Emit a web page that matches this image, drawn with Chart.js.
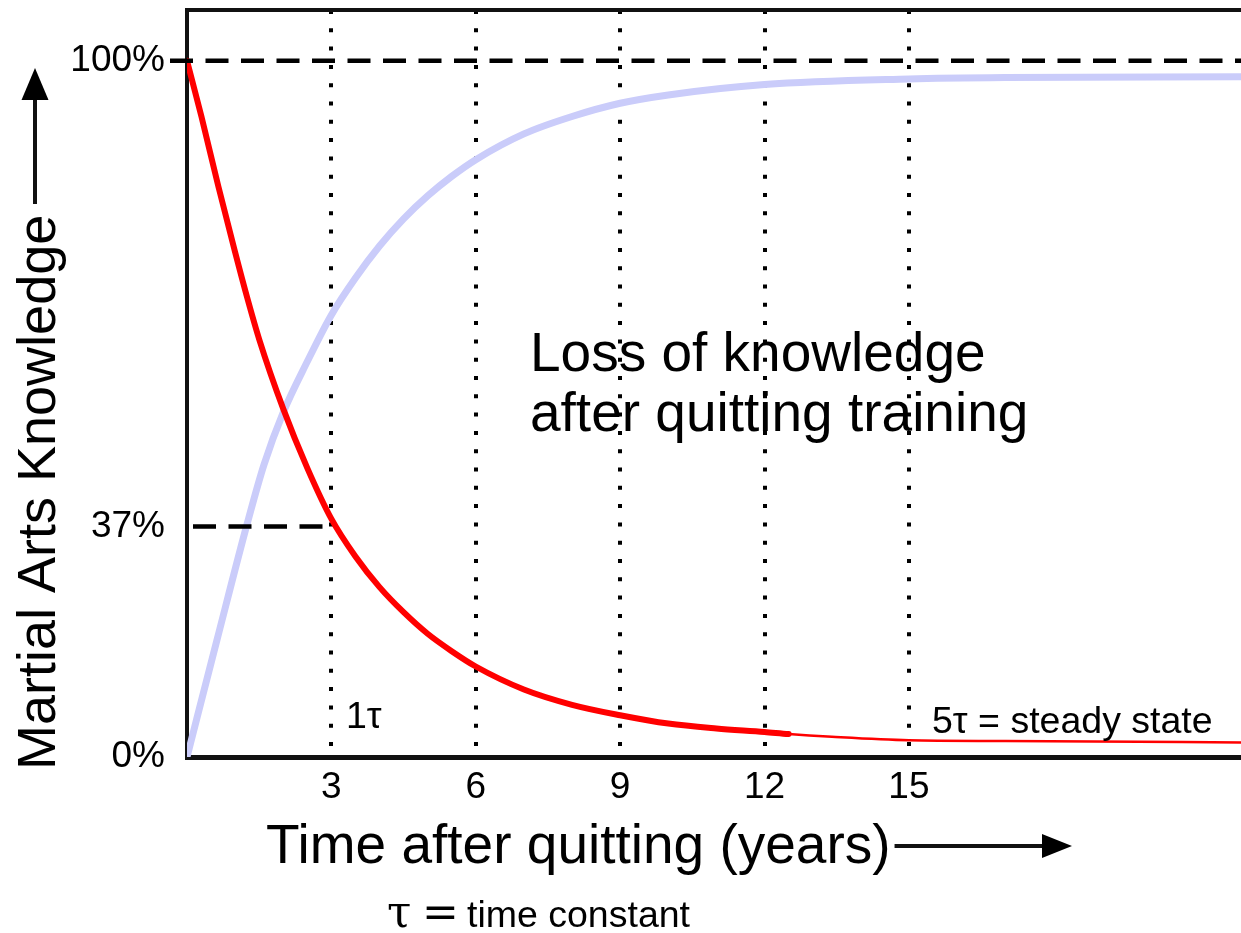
<!DOCTYPE html>
<html>
<head>
<meta charset="utf-8">
<script src="https://cdn.jsdelivr.net/npm/chart.js@4.4.1/dist/chart.umd.min.js"></script>
<style>
  html, body { margin: 0; padding: 0; background: #fff; overflow: hidden; }
  #chart { display: block; }
</style>
</head>
<body>
<canvas id="chart" width="1241" height="933"></canvas>
<script>
// --- DATA ---
const redYears   = [0, 0.3, 0.65, 1.0, 1.25, 1.5, 2.0, 2.5, 3.0, 3.5, 4.0, 4.5, 5.0, 5.5, 6.0, 7.0, 8.0, 9.0, 10.0, 11.0, 12.0, 12.5, 13.4, 15.0, 17.0, 21.9];
const redValues  = [100, 92, 82, 72.5, 66, 60, 50, 41.5, 34.2, 28.8, 24.4, 20.8, 17.7, 15.2, 13, 9.7, 7.5, 6.0, 4.8, 4.1, 3.6, 3.3, 2.9, 2.4, 2.3, 2.1];

const blueYears  = [0, 0.63, 1.25, 1.6, 2.0, 2.5, 3.0, 3.5, 4.0, 4.5, 5.0, 5.5, 6.0, 7.0, 8.0, 9.0, 10.0, 12.0, 15.0, 17.0, 21.9];
const blueValues = [0, 17, 33.5, 42, 49.5, 56.8, 63.5, 68.8, 73.4, 77.3, 80.6, 83.4, 85.8, 89.5, 92, 93.9, 95.1, 96.6, 97.4, 97.6, 97.7];

const xTicks      = [3, 6, 9, 12, 15];
const yTickValues = [0, 33.1, 100];
const yTickLabels = ["0%", "37%", "100%"];

const X_MAX = 21.9;
const Y_MAX = 107.3;
const THIN_FROM = 12.5;   // red line gets thin after this year

const FONT = '"Liberation Sans", Arial, sans-serif';

function toPoints(xs, ys) {
    return xs.map((x, i) => ({ x: x, y: ys[i] }));
}

function arrow(ctx, x1, y1, x2, y2, head, half) {
    const a = Math.atan2(y2 - y1, x2 - x1);
    const bx = x2 - Math.cos(a) * head, by = y2 - Math.sin(a) * head;
    ctx.beginPath();
    ctx.moveTo(x1, y1);
    ctx.lineTo(bx + Math.cos(a) * 2, by + Math.sin(a) * 2);
    ctx.stroke();
    ctx.beginPath();
    ctx.moveTo(x2, y2);
    ctx.lineTo(bx + Math.sin(a) * half, by - Math.cos(a) * half);
    ctx.lineTo(bx - Math.sin(a) * half, by + Math.cos(a) * half);
    ctx.closePath();
    ctx.fill();
}

function noPadding(axis) {
    axis.paddingTop = 0;
    axis.paddingBottom = 0;
    axis.paddingLeft = 0;
    axis.paddingRight = 0;
}

// --- TEXT, ARROWS, REFERENCE LINES ---
const decorations = {
    id: "decorations",
    beforeDraw(chart) {
        // big caption sits under the dotted grid
        const ctx = chart.ctx;
        ctx.save();
        ctx.fillStyle = "#000";
        ctx.font = "55px " + FONT;
        ctx.fillText("Loss of knowledge", 530, 371);
        ctx.fillText("after quitting training", 530, 431);
        ctx.restore();
    },
    afterDatasetsDraw(chart) {
        const ctx = chart.ctx;
        const { x, y } = chart.scales;
        const area = chart.chartArea;
        ctx.save();
        ctx.strokeStyle = "#000";
        ctx.lineWidth = 4.5;
        ctx.setLineDash([23, 12.5]);
        const y100 = y.getPixelForValue(yTickValues[2]);
        ctx.beginPath();
        ctx.moveTo(area.left - 17, y100);
        ctx.lineTo(area.right, y100);
        ctx.stroke();
        const y37 = y.getPixelForValue(yTickValues[1]);
        ctx.beginPath();
        ctx.moveTo(area.left + 6, y37);
        ctx.lineTo(x.getPixelForValue(xTicks[0]) - 3, y37);
        ctx.stroke();
        ctx.restore();
    },
    afterDraw(chart) {
        const ctx = chart.ctx;
        const area = chart.chartArea;
        ctx.save();
        ctx.strokeStyle = "#111";
        ctx.fillStyle = "#000";

        // top frame line
        ctx.lineWidth = 4;
        ctx.beginPath();
        ctx.moveTo(area.left - 2, area.top);
        ctx.lineTo(area.right, area.top);
        ctx.stroke();

        // x title + arrow
        ctx.font = "55px " + FONT;
        ctx.textBaseline = "alphabetic";
        const xt = "Time after quitting (years)";
        ctx.fillText(xt, 266, 863);
        const w = ctx.measureText(xt).width;
        ctx.lineWidth = 4;
        arrow(ctx, 266 + w + 4, 846, 1072, 846, 30, 12);

        // y title + arrow
        ctx.save();
        ctx.translate(55, 770);
        ctx.rotate(-Math.PI / 2);
        ctx.font = "54px " + FONT;
        ctx.fillText("Martial Arts Knowledge", 0, 0);
        ctx.restore();
        arrow(ctx, 35, 204, 35, 68, 32, 13.5);

        // small notes
        ctx.font = "37.5px " + FONT;
        ctx.fillText("1\u03C4", 346, 728);
        ctx.fillText("5\u03C4 = steady state", 932, 733);

        ctx.font = '44px "DejaVu Serif", "Liberation Serif", serif';
        ctx.fillText("\u03C4", 387, 927);
        ctx.fillText("=", 422, 927);
        ctx.font = "37.5px " + FONT;
        ctx.fillText("time constant", 467, 927);
        ctx.restore();
    }
};

// --- CHART ---
new Chart(document.getElementById("chart"), {
    type: "line",
    data: {
        datasets: [
            {
                label: "Knowledge",
                data: toPoints(redYears, redValues),
                borderColor: "#ff0000",
                borderWidth: 6,
                borderCapStyle: "round",
                borderJoinStyle: "round",
                cubicInterpolationMode: "monotone",
                pointRadius: 0,
                fill: false,
                segment: {
                    borderWidth: ctx => ctx.p0.parsed.x >= THIN_FROM ? 2.5 : 6
                }
            },
            {
                label: "Rise",
                data: toPoints(blueYears, blueValues),
                borderColor: "rgb(202, 204, 250)",
                borderWidth: 7,
                borderCapStyle: "round",
                borderJoinStyle: "round",
                cubicInterpolationMode: "monotone",
                pointRadius: 0,
                fill: false
            }
        ]
    },
    options: {
        responsive: false,
        animation: false,
        devicePixelRatio: 1,
        layout: { padding: { top: 10, right: 0, bottom: 0, left: 0 } },
        plugins: {
            legend: { display: false },
            tooltip: { enabled: false }
        },
        scales: {
            x: {
                type: "linear",
                min: 0,
                max: X_MAX,
                afterBuildTicks: axis => { axis.ticks = xTicks.map(v => ({ value: v })); },
                afterFit: axis => { axis.height = 933 - 757; noPadding(axis); },
                grid: { color: "#000", lineWidth: 4, drawTicks: false },
                border: { color: "#111", width: 5, dash: [4, 14.3] },
                ticks: {
                    color: "#000",
                    padding: 9,
                    font: { family: FONT, size: 37 },
                    callback: v => String(v)
                }
            },
            y: {
                type: "linear",
                min: 0,
                max: Y_MAX,
                afterBuildTicks: axis => { axis.ticks = yTickValues.map(v => ({ value: v })); },
                afterFit: axis => { axis.width = 187; noPadding(axis); },
                grid: { display: false, drawTicks: false },
                border: { color: "#111", width: 4 },
                ticks: {
                    color: "#000",
                    padding: 22,
                    font: { family: FONT, size: 37 },
                    callback: (v, i) => yTickLabels[i]
                }
            }
        }
    },
    plugins: [decorations]
});
</script>
</body>
</html>
